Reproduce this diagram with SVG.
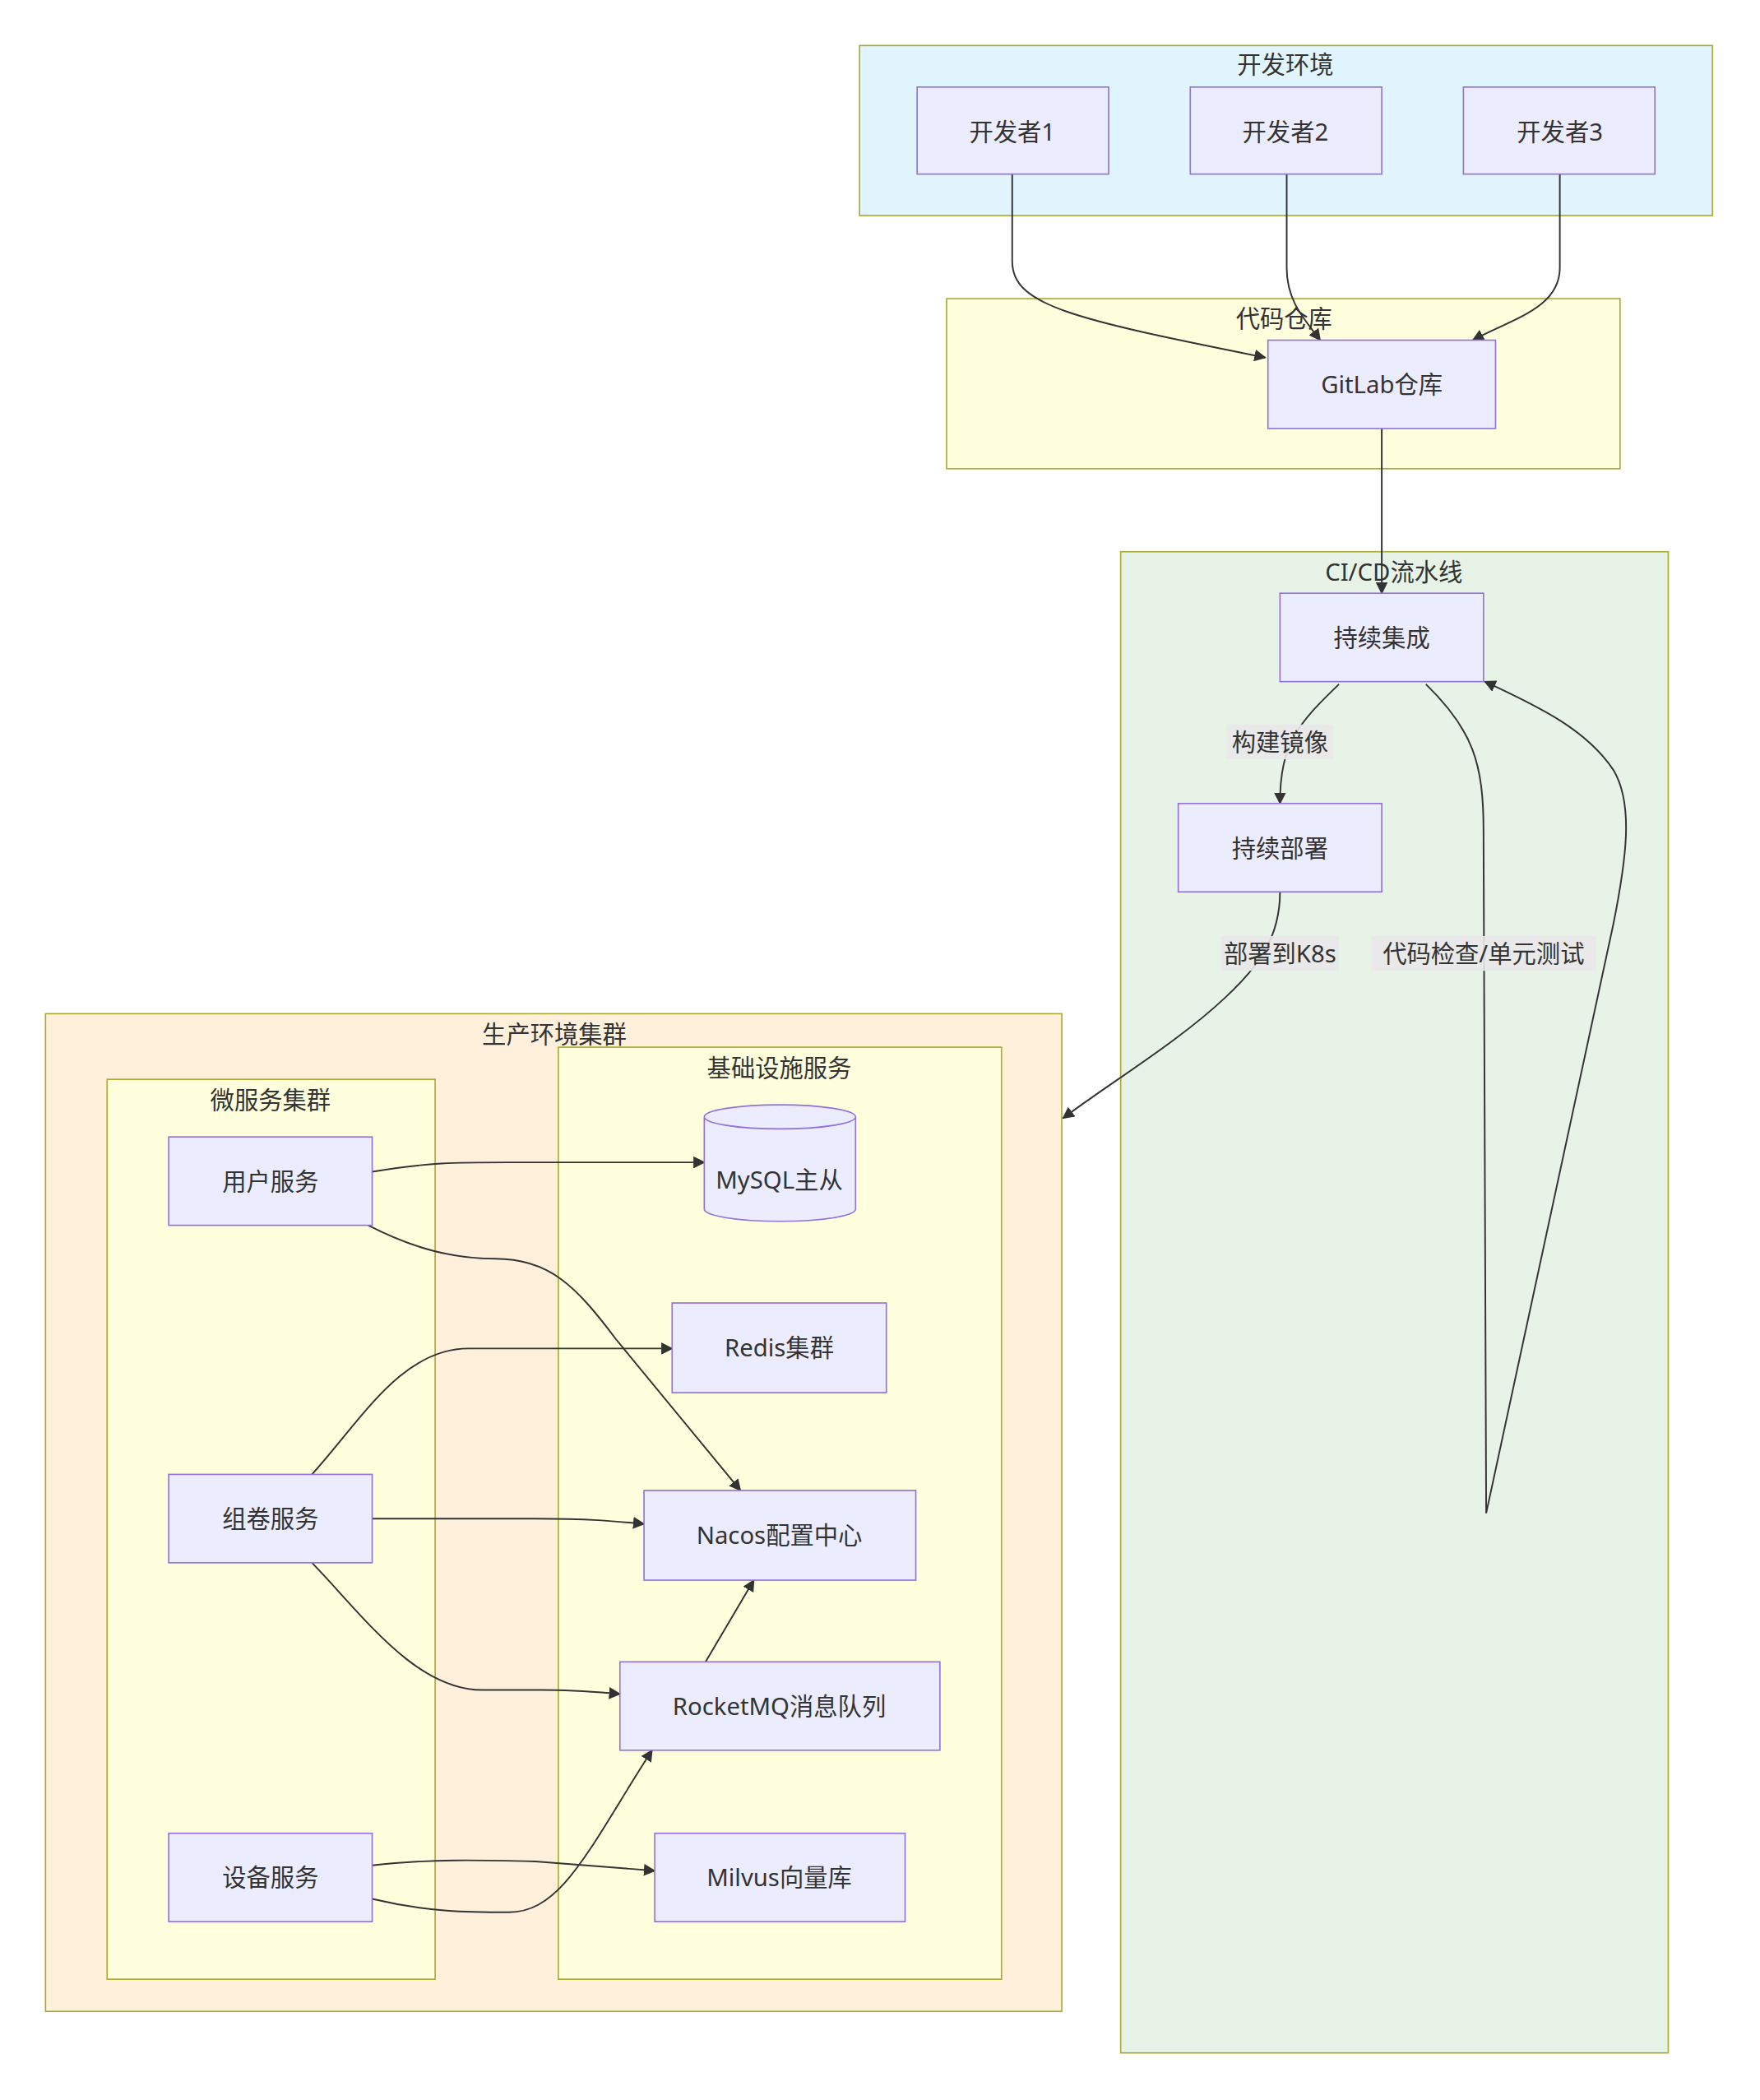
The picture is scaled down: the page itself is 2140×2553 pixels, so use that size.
<svg xmlns="http://www.w3.org/2000/svg" width="2140" height="2553" viewBox="0 0 2140 2553">
<style>
text{font-family:"Noto Sans","Noto Sans CJK SC",sans-serif;font-size:18px;fill:#333;text-anchor:middle;dominant-baseline:central}
.n{fill:#ECECFF;stroke:#9370DB;stroke-width:1}
.c{stroke:#aaaa33;stroke-width:1}
.e{fill:none;stroke:#333;stroke-width:1.2}
.lb{fill:#e8e8e8;opacity:0.9}
</style>
<defs>
<marker id="a" viewBox="0 0 10 10" refX="9" refY="5" markerWidth="9" markerHeight="9" markerUnits="userSpaceOnUse" orient="auto"><path d="M0,0L10,5L0,10z" fill="#333"/></marker>
</defs>
<rect width="2140" height="2553" fill="#fff"/>
<g transform="scale(1.628)">
<g id="clusters">
<g id="devenv"><rect class="c" x="642" y="34" width="637" height="127" fill="#E1F5FE"/><text x="960" y="48">开发环境</text></g>
<g id="repo"><rect class="c" x="707" y="223" width="503" height="127" fill="#FFFFDE"/><text x="959" y="238">代码仓库</text></g>
<g id="cicd"><rect class="c" x="837" y="412" width="409" height="1121" fill="#E8F3E8"/><text x="1041" y="427">CI/CD流水线</text></g>
<g id="prod"><rect class="c" x="34" y="757" width="759" height="745" fill="#FFF0DC"/><text x="414" y="772">生产环境集群</text></g>
<g id="micro"><rect class="c" x="80" y="806" width="245" height="672" fill="#FFFFDE"/><text x="202" y="821">微服务集群</text></g>
<g id="infra"><rect class="c" x="417" y="782" width="331" height="696" fill="#FFFFDE"/><text x="582" y="797">基础设施服务</text></g>
</g>
<g id="connectors">
<path class="e" marker-end="url(#a)" d="M756,130V195C756,228 800,238 945,267"/>
<path class="e" marker-end="url(#a)" d="M961,130V200C961,225 974,238 986,254"/>
<path class="e" marker-end="url(#a)" d="M1165,130V200C1165,230 1130,238 1100,254"/>
<path class="e" marker-end="url(#a)" d="M1032,320V443"/>
<path class="e" marker-end="url(#a)" d="M1000,511C970,540 956,555 956,600"/>
<path class="e" marker-end="url(#a)" d="M956,666C956,700 940,722 915,745C880,778 830,808 794,835"/>
<path class="e" marker-end="url(#a)" d="M1065,511C1100,545 1108,570 1108,620L1110,1130L1205,690C1215,640 1220,600 1205,575C1185,545 1150,528 1109,509"/>
<path class="e" marker-end="url(#a)" d="M278,875C320,868 340,868 380,868L526,868"/>
<path class="e" marker-end="url(#a)" d="M275,915C310,933 340,940 370,940C410,940 430,960 460,1000L553,1113"/>
<path class="e" marker-end="url(#a)" d="M233,1101C270,1060 300,1007 350,1007L502,1007"/>
<path class="e" marker-end="url(#a)" d="M278,1134L400,1134C440,1134 460,1136 481,1138"/>
<path class="e" marker-end="url(#a)" d="M233,1167C270,1205 310,1262 360,1262L405,1262C430,1262 450,1264 463,1265"/>
<path class="e" marker-end="url(#a)" d="M527,1241L563,1180"/>
<path class="e" marker-end="url(#a)" d="M278,1393C320,1388 360,1389 400,1390L489,1397"/>
<path class="e" marker-end="url(#a)" d="M278,1418C320,1428 350,1428 380,1428C420,1428 440,1380 487,1307"/>
<rect class="lb" x="916" y="541" width="80" height="26"/><text x="956" y="554">构建镜像</text>
<rect class="lb" x="912" y="699" width="88" height="26"/><text x="956" y="712">部署到K8s</text>
<rect class="lb" x="1024" y="699" width="168" height="26"/><text x="1108" y="712">代码检查/单元测试</text>
</g>
<g id="dev1"><rect class="n" x="685" y="65" width="143" height="65"/><text x="756" y="98">开发者1</text></g>
<g id="dev2"><rect class="n" x="889" y="65" width="143" height="65"/><text x="960" y="98">开发者2</text></g>
<g id="dev3"><rect class="n" x="1093" y="65" width="143" height="65"/><text x="1165" y="98">开发者3</text></g>
<g id="gitlab"><rect class="n" x="947" y="254" width="170" height="66"/><text x="1032" y="287">GitLab仓库</text></g>
<g id="ci"><rect class="n" x="956" y="443" width="152" height="66"/><text x="1032" y="476">持续集成</text></g>
<g id="cd"><rect class="n" x="880" y="600" width="152" height="66"/><text x="956" y="633">持续部署</text></g>
<g id="user"><rect class="n" x="126" y="849" width="152" height="66"/><text x="202" y="882">用户服务</text></g>
<g id="exam"><rect class="n" x="126" y="1101" width="152" height="66"/><text x="202" y="1134">组卷服务</text></g>
<g id="device"><rect class="n" x="126" y="1369" width="152" height="66"/><text x="202" y="1402">设备服务</text></g>
<g id="mysql"><path class="n" d="M526,834V903A56.5,9 0 0 0 639,903V834A56.5,9 0 0 0 526,834A56.5,9 0 0 0 639,834"/><text x="582" y="881">MySQL主从</text></g>
<g id="redis"><rect class="n" x="502" y="973" width="160" height="67"/><text x="582" y="1006">Redis集群</text></g>
<g id="nacos"><rect class="n" x="481" y="1113" width="203" height="67"/><text x="582" y="1146">Nacos配置中心</text></g>
<g id="mq"><rect class="n" x="463" y="1241" width="239" height="66"/><text x="582" y="1274">RocketMQ消息队列</text></g>
<g id="milvus"><rect class="n" x="489" y="1369" width="187" height="66"/><text x="582" y="1402">Milvus向量库</text></g>
</g>
</svg>
